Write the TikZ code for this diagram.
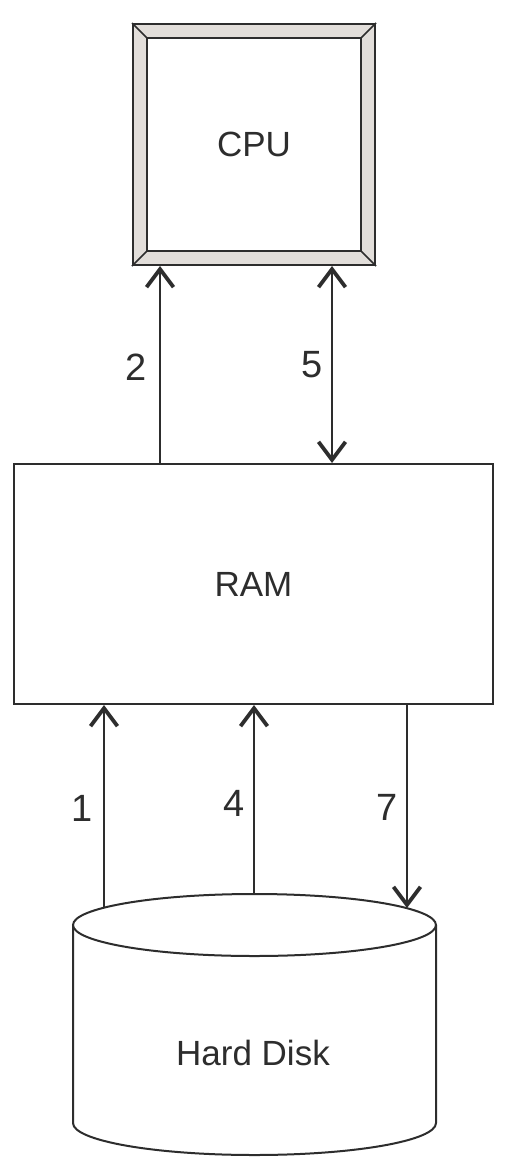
\documentclass[tikz,border=0pt]{standalone}
\usepackage{fontspec}
\setmainfont{Liberation Sans}
\usetikzlibrary{arrows.meta}
\definecolor{ink}{RGB}{45,45,45}
\definecolor{bevelgray}{RGB}{226,222,218}
\begin{document}
\begin{tikzpicture}[x=1pt,y=-1pt,
  line width=2pt, draw=ink, text=ink,
  boxtext/.style={font=\fontsize{35}{40}\selectfont},
  numlabel/.style={font=\fontsize{38}{42}\selectfont, inner sep=0pt},
  tipbarb/.tip={Straight Barb[length=18pt,width=27pt,line width=3.8pt]},
  arr/.style={-tipbarb},
  darr/.style={tipbarb-tipbarb}
]
\useasboundingbox (0,0) rectangle (510,1172);

% CPU with bevelled frame
\node[draw, fill=bevelgray, minimum width=242pt, minimum height=241pt] (cpu) at (254,144.5) {};
\fill[white] ([shift={(15pt,-15pt)}]cpu.north west) rectangle ([shift={(-15pt,15pt)}]cpu.south east);
\draw ([shift={(15pt,-15pt)}]cpu.north west) rectangle ([shift={(-15pt,15pt)}]cpu.south east);
\draw[line width=1.5pt] (cpu.north west) -- ([shift={(15pt,-15pt)}]cpu.north west);
\draw[line width=1.5pt] (cpu.north east) -- ([shift={(-15pt,-15pt)}]cpu.north east);
\draw[line width=1.5pt] (cpu.south west) -- ([shift={(15pt,15pt)}]cpu.south west);
\draw[line width=1.5pt] (cpu.south east) -- ([shift={(-15pt,15pt)}]cpu.south east);
\node[boxtext] (cpulabel) at (cpu.center) {CPU};

% RAM
\node[draw, boxtext, minimum width=479pt, minimum height=240pt] (ram) at (253.5,584) {RAM};

% Hard disk (cylinder)
\coordinate (dtop) at (254.5,925);
\fill[white] (73,925) -- (73,1123) arc[start angle=180, end angle=360, x radius=181.5pt, y radius=32pt] -- (436,925) -- cycle;
\draw (73,925) -- (73,1123) arc[start angle=180, end angle=360, x radius=181.5pt, y radius=32pt] -- (436,925);
\draw[fill=white] (dtop) ellipse [x radius=181.5pt, y radius=31pt];
\node[boxtext] (disk) at (253,1053) {Hard Disk};

% column x positions
\coordinate (x2) at (160,0);
\coordinate (x5) at (332,0);
\coordinate (d1) at (104,907.7);
\coordinate (d4) at (254,894);
\coordinate (d7) at (407,908);

% connectors
\draw[arr] (x2 |- ram.north) -- (x2 |- cpu.south);
\draw[darr] (x5 |- ram.north) -- (x5 |- cpu.south);
\draw[arr] (d1) -- (d1 |- ram.south);
\draw[arr] (d4) -- (d4 |- ram.south);
\draw[arr] (d7 |- ram.south) -- (d7);

% labels
\node[numlabel] (l2) at (136,367) {2};
\node[numlabel] (l5) at (312,365) {5};
\node[numlabel] (l1) at (82,808) {1};
\node[numlabel] (l4) at (234,803) {4};
\node[numlabel] (l7) at (387,807) {7};
\end{tikzpicture}
\end{document}
